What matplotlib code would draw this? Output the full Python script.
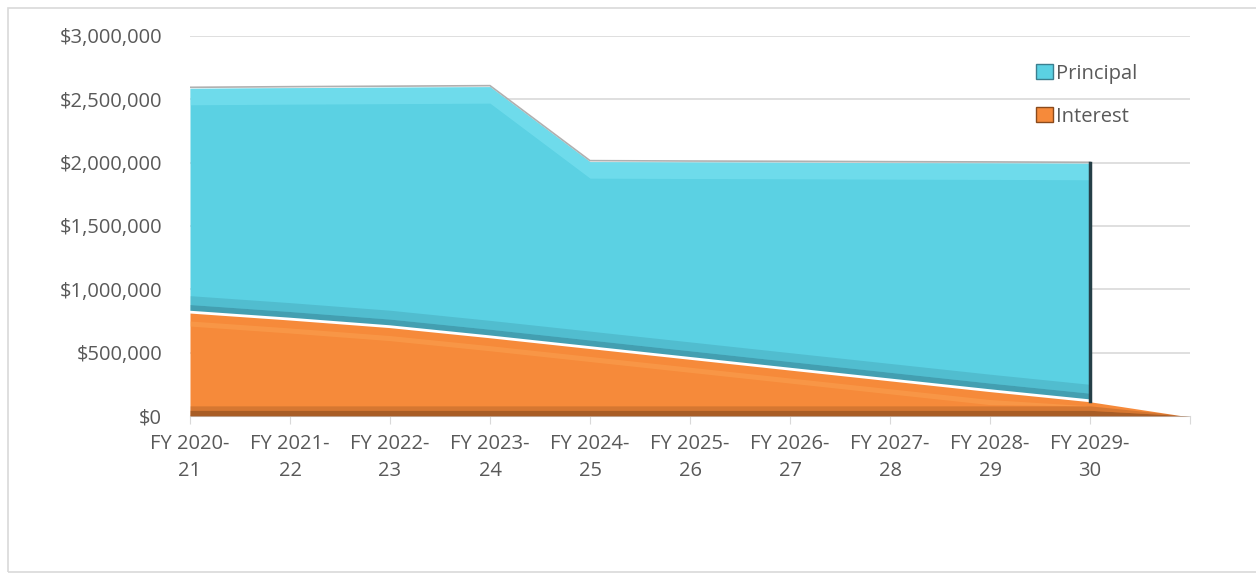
import numpy as np
import matplotlib.pyplot as plt
from matplotlib.patches import Patch, Rectangle
from matplotlib.ticker import FuncFormatter

plt.rcParams['font.family'] = ['Open Sans', 'DejaVu Sans']

# --------------------------------
# Data
# --------------------------------
years = ["FY 2020-\n21", "FY 2021-\n22", "FY 2022-\n23", "FY 2023-\n24", "FY 2024-\n25",
         "FY 2025-\n26", "FY 2026-\n27", "FY 2027-\n28", "FY 2028-\n29", "FY 2029-\n30", ""]
interest = [820000, 765000, 705000, 625000, 540000, 455000, 370000, 285000, 200000, 120000, 0]
principal = [1767000, 1827000, 1891000, 1975000, 1468000, 1550000, 1633000, 1715000,
             1798000, 1875000]

CYAN = "#5bd1e3"
CYAN_HI = "#86e9f6"
CYAN_DK = "#3b8fa1"
ORANGE = "#f68a3a"
ORANGE_HI = "#fba352"
ORANGE_DK = "#9b5523"
TXT = "#595959"
FS = 14.5

x_int = np.arange(len(interest))
x_pr = np.arange(len(principal))
inter = np.array(interest, dtype=float)
prin = np.array(principal, dtype=float)
base = inter[:len(prin)]
top = base + prin

fig = plt.figure(figsize=(12.56, 5.76), dpi=100)
W, H = 1256, 576
ax = fig.add_axes([190 / W, 160 / H, 1000 / W, 380 / H])

# chart border
fig.patches.append(Rectangle((8 / W, 4 / H), 1.2, 564 / H, transform=fig.transFigure,
                             fill=False, edgecolor="#d9d9d9", lw=1.2))

# --------------------------------
# Areas (with a bit of bevel shading)
# --------------------------------
ax.fill_between(x_int, 0, inter, color=ORANGE, lw=0, zorder=2)
ax.fill_between(x_int, 0, np.minimum(inter, 45000), color=ORANGE_DK, lw=0, alpha=0.85, zorder=3)
ax.fill_between(x_int, np.minimum(inter, 45000), np.minimum(inter, 80000),
                color=ORANGE_DK, lw=0, alpha=0.35, zorder=3)
hi_lo = np.maximum(inter - 110000, 80000)
hi_hi = np.maximum(inter - 70000, 80000)
ax.fill_between(x_int, np.minimum(hi_lo, inter), np.minimum(hi_hi, inter),
                color=ORANGE_HI, lw=0, alpha=0.5, zorder=3)

ax.fill_between(x_pr, base, top, color=CYAN, lw=0, zorder=2)
ax.fill_between(x_pr, top - 130000, top, color=CYAN_HI, lw=0, alpha=0.45, zorder=3)
ax.fill_between(x_pr, base, base + 60000, color=CYAN_DK, lw=0, alpha=0.75, zorder=3)
ax.fill_between(x_pr, base + 60000, base + 130000, color=CYAN_DK, lw=0, alpha=0.3, zorder=3)
ax.plot(x_pr, top + 8000, color="#b0b0b0", lw=1.2, zorder=4)
ax.plot(x_int, inter, color="white", lw=2, zorder=5)
ax.plot([x_pr[-1], x_pr[-1]], [base[-1], top[-1]], color="#253f47", lw=2.5, zorder=5)

# --------------------------------
# Axes styling
# --------------------------------
ax.set_xlim(0, len(interest) - 1)
ax.set_ylim(0, 3000000)
ax.set_yticks(np.arange(0, 3000001, 500000))
ax.yaxis.set_major_formatter(FuncFormatter(lambda v, p: f"${v:,.0f}"))
ax.grid(axis='y', color="#d9d9d9", lw=1.2, zorder=0)
ax.set_axisbelow(True)
ax.set_xticks(x_int)
ax.set_xticklabels(years, linespacing=1.45)
for s in ["top", "right", "left"]:
    ax.spines[s].set_visible(False)
ax.spines["bottom"].set_color("#d9d9d9")
ax.tick_params(axis='y', length=0, pad=20, labelsize=FS, labelcolor=TXT)
ax.tick_params(axis='x', length=6, color="#d9d9d9", pad=7, labelsize=FS, labelcolor=TXT)

handles = [Patch(facecolor=CYAN, edgecolor="#3b7f8f", label="Principal"),
           Patch(facecolor=ORANGE, edgecolor="#8a4a1c", label="Interest")]
ax.legend(handles=handles, loc="upper right", bbox_to_anchor=(0.965, 0.975), frameon=False,
          fontsize=FS, labelcolor=TXT, handlelength=0.8, handleheight=0.8,
          handletextpad=0.15, labelspacing=1.15)

fig.savefig("out.png", dpi=100)
